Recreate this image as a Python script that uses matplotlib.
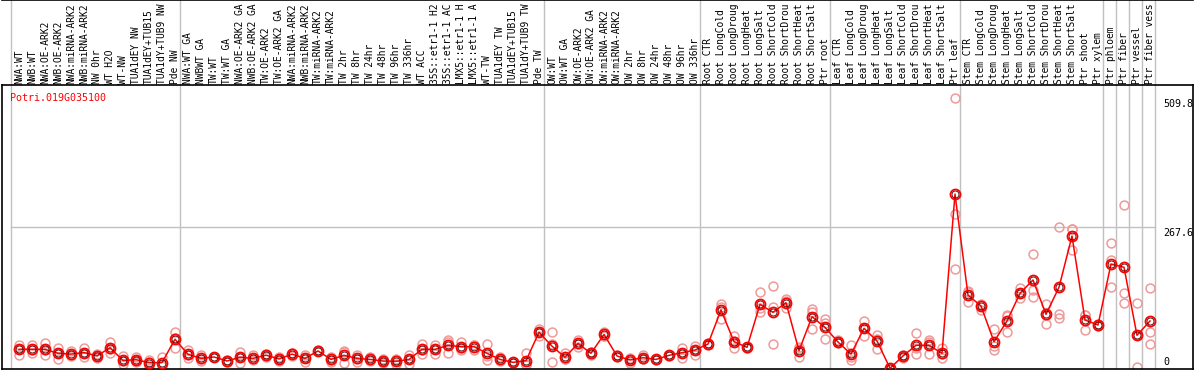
import numpy as np
from matplotlib import pyplot as plt

# sample names (header), left to right, as far as the header shows them
labels = ['NWA:WT', 'NWB:WT', 'NWA:OE-ARK2', 'NWB:OE-ARK2', 'NWA:miRNA-ARK2', 'NWB:miRNA-ARK2',
          'NW 0hr', 'WT H2O', 'WT-NW', 'TUA1dEY NW', 'TUA1dEY+TUB15', 'TUA1dY+TUB9 NW', 'Pde NW',
          'NWA:WT GA', 'NWBWT GA', 'TW:WT', 'TW:WT GA', 'NWA:OE-ARK2 GA', 'NWB:OE-ARK2 GA',
          'TW:OE-ARK2', 'TW:OE-ARK2 GA', 'NWA:miRNA-ARK2', 'NWB:miRNA-ARK2', 'TW:miRNA-ARK2',
          'TW:miRNA-ARK2', 'TW 2hr', 'TW 8hr', 'TW 24hr', 'TW 48hr', 'TW 96hr', 'TW 336hr',
          'WT ACC', '35S::etr1-1 H2', '35S::etr1-1 AC', 'LMX5::etr1-1 H', 'LMX5::etr1-1 A',
          'WT-TW', 'TUA1dEY TW', 'TUA1dEY+TUB15', 'TUA1dY+TUB9 TW', 'Pde TW',
          'OW:WT', 'OW:WT GA', 'OW:OE-ARK2', 'OW:OE-ARK2 GA', 'OW:miRNA-ARK2', 'OW:miRNA-ARK2',
          'OW 2hr', 'OW 8hr', 'OW 24hr', 'OW 48hr', 'OW 96hr', 'OW 336hr',
          'Root CTR', 'Root LongCold', 'Root LongDroug', 'Root LongHeat', 'Root LongSalt',
          'Root ShortCold', 'Root ShortDrou', 'Root ShortHeat', 'Root ShortSalt', 'Ptr root',
          'Leaf CTR', 'Leaf LongCold', 'Leaf LongDroug', 'Leaf LongHeat', 'Leaf LongSalt',
          'Leaf ShortCold', 'Leaf ShortDrou', 'Leaf ShortHeat', 'Leaf ShortSalt', 'Ptr leaf',
          'Stem CTR', 'Stem LongCold', 'Stem LongDroug', 'Stem LongHeat', 'Stem LongSalt',
          'Stem ShortCold', 'Stem ShortDrou', 'Stem ShortHeat', 'Stem ShortSalt',
          'Ptr shoot', 'Ptr xylem', 'Ptr phloem', 'Ptr fiber', 'Ptr vessel', 'Ptr fiber vess']

# mean expression per sample
mean_expr = [37, 37, 37, 29.5, 28, 31, 24.5, 40, 16, 17.5, 12, 12, 56,
             27.6, 20, 22.6, 15, 22, 20, 26, 18.8, 28, 20, 34, 18, 25.7, 20, 18, 15, 14.4, 18,
             37, 37, 44.5, 42, 42, 29.5, 18, 12.5, 15.7, 69,
             43, 22, 48, 29.5, 65, 24.5, 17, 21.3, 18, 25.7, 30.7, 35.7,
             47, 111, 51.4, 40.7, 121.6, 106.6, 124.7, 34.4, 98.4, 78.4,
             50.8, 28, 76.5, 52.7, 1.3, 24.5, 44.5, 44.5, 29.5, 329,
             139, 118.5, 51.4, 90.3, 142.4, 167.4, 102.9, 153.7, 250.2,
             92.2, 82.8, 197.5, 191.3, 63.4, 90.3]

# replicates
rep_a = [46, 46, 49, 40, 34, 40, 28, 51, 24.5, 22, 17, 22, 70,
         36, 26, 23, 17, 32.5, 26, 29, 23, 30, 27, 35, 23, 34, 27, 23, 19, 18, 25.7,
         47, 45, 54, 51, 45, 47, 22, 14, 29.5, 74.6,
         69, 29.5, 55, 32, 70, 26, 21, 26, 19, 26, 40, 43.9,
         48, 121.6, 62, 42, 144, 157, 131.7, 38, 108, 93.4,
         54, 45, 91, 64, 1.3, 27, 67, 54.5, 40, 509.8,
         145.4, 121, 74.6, 101.6, 151.8, 216.3, 122.3, 266.5, 263.4,
         101.6, 80, 236.4, 308, 123.6, 151.8]
rep_b = [26, 31, 26, 18, 26, 22, 21, 31, 9, 13, 5.6, 5.6, 39,
         26, 15, 22, 14, 10.7, 16, 23, 15, 24, 13, 33, 14, 10.7, 14, 15, 11, 9, 10,
         29, 28, 29.5, 36, 35, 16.7, 15, 11, 10, 62,
         12.5, 18, 42, 27, 62, 23, 10.7, 19, 17, 25, 21, 27,
         46, 94, 39, 40, 106.6, 117, 127, 23, 74.6, 55.8,
         49, 17, 62, 37, 1.0, 21, 27.6, 27.6, 20, 291,
         125.4, 111, 35.7, 70, 133, 148.6, 84, 102.9, 223.9,
         73.4, 85, 205, 142.4, 3.2, 70]
rep_c = [38, 35, 36, 30, 24, 31, 24, 38, 15, 17, 13, 8, 59,
         21, 19, 23, 14, 23, 18, 26, 18, 30, 20, 34, 17, 32, 19, 16, 15, 16, 18,
         35, 38, 50, 39, 46, 25, 17, 12.5, 7.6, 70,
         47, 18.5, 47, 29.5, 63, 24.5, 19, 19, 18, 26, 31, 36,
         47, 117, 53, 40, 114, 47, 115, 42, 112, 86,
         50, 22, 76.5, 57, 1.6, 25, 39, 51, 28.5, 187.5,
         146, 123, 44, 99, 142.4, 134.9, 102.4, 95.4, 263.3,
         101.6, 83, 153.7, 123.6, 63.4, 46.4]

gene = 'Potri.019G035100'
ytick_vals = [0, 267.6, 509.8]
ytick_text = ['0', '267.6', '509.8']
group_ends = [0, 13, 41, 53, 63, 73, 84, 85, 86, 87, 88]

plt.rcParams['font.family'] = ['DejaVu Sans Mono']
W, H = 1194, 370
fig = plt.figure(figsize=(W / 100, H / 100), dpi=100)

n = len(labels)
x = np.arange(n)
# pixel layout: column i centred at 19 + 13 i
x0 = (2 - 19) / 13
x1 = (1193 - 19) / 13
ymax = 284 / 0.5316

# header with sample names
hd = fig.add_axes([2 / W, 1 - 85 / H, 1191 / W, 85 / H])
hd.set_xlim(x0, x1)
hd.set_ylim(0, 85)
hd.set_xticks([])
hd.set_yticks([])
for s in ['left', 'right', 'bottom']:
    hd.spines[s].set_visible(False)
hd.spines['top'].set_linewidth(1.2)
for g in group_ends:
    hd.axvline(g - 0.615, color='#c0c0c0', lw=1)
for i, lab in enumerate(labels):
    hd.text(i, 1.5, lab, rotation=90, ha='center', va='bottom', fontsize=6.9,
            color='black')

# data area
ax = fig.add_axes([2 / W, 1 / H, 1191 / W, 284 / H])
ax.set_xlim(x0, x1)
ax.set_ylim(0, ymax)
ax.set_xticks([])
ax.set_yticks([])
for s in ax.spines.values():
    s.set_linewidth(1.2)
for g in group_ends:
    ax.axvline(g - 0.615, color='#c0c0c0', lw=1, zorder=0)
ax.plot([x0 + 0.67, 87.38], [ytick_vals[1]] * 2, color='#c0c0c0', lw=1, zorder=0)

for rep in [rep_a, rep_b, rep_c]:
    ax.plot(x, rep, 'o', ms=6.4, mfc='none', mec='#ee9a9a', mew=1.1, clip_on=False, zorder=2)
ax.plot(x, mean_expr, '-', color='red', lw=1.1, zorder=3)
ax.plot(x, mean_expr, 'o', ms=7.2, mfc='none', mec='red', mew=1.3, clip_on=False, zorder=4)
ax.plot(x, mean_expr, 'o', ms=5.0, mfc='none', mec='#400000', mew=0.6, clip_on=False, zorder=5)

ax.text(x0 + 0.62, ymax - 24, gene, color='red', fontsize=7.2, ha='left', va='center')
# value labels on the right, drawn just under their level
for v, t in zip(ytick_vals, ytick_text):
    off = 13 if v == 0 else -12
    ax.text(88.0, v + off, t, fontsize=7.2, ha='left', va='center', color='black')

fig.savefig('out.png', dpi=100)
